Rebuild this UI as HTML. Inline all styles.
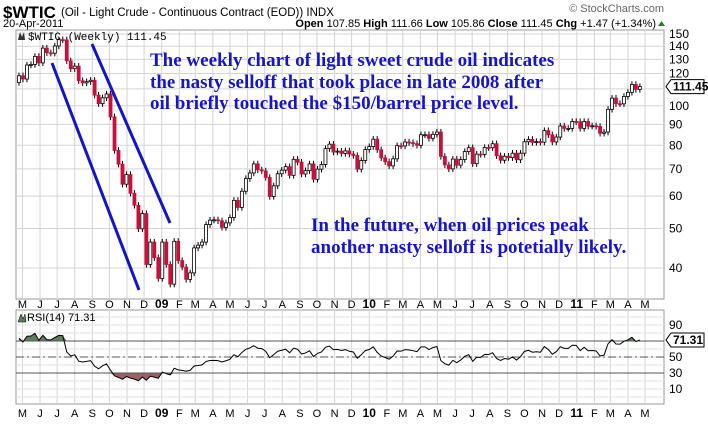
<!DOCTYPE html>
<html><head><meta charset="utf-8">
<style>
body{margin:0;background:#fff;width:708px;height:425px;overflow:hidden;font-family:"Liberation Sans",sans-serif;}
svg{display:block}
</style></head>
<body>
<svg id="chart" width="708" height="425" xmlns="http://www.w3.org/2000/svg">
  <text x="3" y="18" font-size="17" font-weight="bold" fill="#000">$WTIC</text>
  <text x="61" y="16" font-size="11.5" fill="#000">(Oil - Light Crude - Continuous Contract (EOD)) INDX</text>
  <text x="3" y="27" font-size="11" fill="#000">20-Apr-2011</text>
  <text x="656" y="27" font-size="11" text-anchor="end" fill="#000"><tspan font-weight="bold">Open</tspan> 107.85 <tspan font-weight="bold">High</tspan> 111.66 <tspan font-weight="bold">Low</tspan> 105.86 <tspan font-weight="bold">Close</tspan> 111.45 <tspan font-weight="bold">Chg</tspan> +1.47 (+1.34%)</text>
  <polygon points="658,26 665,26 661.5,21" fill="#2a7a2a"/>
  <text x="664" y="12" font-size="11" text-anchor="end" fill="#666">© StockCharts.com</text>
  <g id="main"></g>
  <g id="rsi"></g>
  <g id="notes">
    <g font-family="Liberation Serif, serif" font-weight="bold" font-size="19" fill="#1616c8">
      <text x="150" y="66">The weekly chart of light sweet crude oil indicates</text>
      <text x="150" y="88">the nasty selloff that took place in late 2008 after</text>
      <text x="150" y="109">oil briefly touched the $150/barrel price level.</text>
      <text x="311" y="231">In the future, when oil prices peak</text>
      <text x="311" y="253">another nasty selloff is potetially likely.</text>
    </g>
    <line x1="52" y1="63" x2="139" y2="290" stroke="#1414c8" stroke-width="3"/>
    <line x1="92" y1="44" x2="170" y2="223" stroke="#1414c8" stroke-width="3"/>
  </g>
</svg>
<script>
const closes=[118.5,116.3,125.9,126.3,132.2,127.4,138.5,134.9,134.6,140.2,145.3,145.1,128.9,123.3,125.1,115.2,113.8,114.6,115.5,106.2,101.2,104.6,106.9,93.9,77.7,71.9,64.2,67.8,61.0,57.0,49.9,54.4,40.8,46.3,42.4,37.7,
46.3,40.8,36.5,46.5,41.7,40.2,37.5,38.9,44.8,45.5,46.3,51.1,52.4,52.5,52.2,50.3,51.6,53.2,58.6,56.3,61.7,66.3,68.4,72.0,69.6,69.2,66.7,59.9,63.6,68.1,69.5,70.9,67.5,73.9,72.7,68.0,69.3,72.0,66.0,69.9,71.8,78.5,80.5,77.0,77.4,76.4,77.5,76.1,75.5,69.9,73.4,78.1,79.4,
82.8,78.0,74.5,72.9,71.2,74.1,79.8,79.7,81.5,81.2,80.7,80.0,84.9,84.9,83.2,85.1,86.2,75.1,71.6,70.0,74.0,71.5,73.8,77.2,78.9,72.1,76.1,76.0,79.0,78.9,80.7,75.4,73.5,75.2,74.6,76.5,73.7,76.5,81.6,82.7,81.3,81.7,81.4,86.9,84.9,81.5,83.8,89.2,88.0,88.0,91.5,91.4,
88.0,91.5,89.1,89.3,89.0,85.6,86.2,98.0,104.4,101.2,101.1,105.4,107.9,112.8,109.7,111.45];
const firstOpen=114.0;
const rsiSeed=[1.8,0.65];
const priceTicks=[40,50,60,70,80,90,100,110,120,130,140,150];
const rsiTicks=[10,30,50,70,90];
const monthLabels=["M","J","J","A","S","O","N","D","09","F","M","A","M","J","J","A","S","O","N","D","10","F","M","A","M","J","J","A","S","O","N","D","11","F","M","A","M"];
const lastValue=111.45, lastRsi=71.31;

const NS="http://www.w3.org/2000/svg";
const L=16,R=664,T=30,B=299,RT=310,RB=404;
const X0=19,DX=3.98;
function xw(i){return X0+i*DX;}
function yp(p){return 34+177*Math.log(150/p);}
function yr(v){return 397-0.8*v;}
function mk(tag,a,parent){const e=document.createElementNS(NS,tag);for(const k in a)e.setAttribute(k,a[k]);parent.appendChild(e);return e;}
const main=document.getElementById('main'), rsiG=document.getElementById('rsi');
let bg=mk('rect',{x:L,y:T,width:R-L,height:B-T,fill:'#fff',stroke:'#999'},main);


let bg2=mk('rect',{x:L,y:RT,width:R-L,height:RB-RT,fill:'#fff',stroke:'#999'},rsiG);


const start=Date.UTC(2008,3,25);
for(let m=0;m<monthLabels.length;m++){
  const d=Date.UTC(2008,4+m,1);
  const x=X0+(d-start)/864e5/7*DX;
  mk('line',{x1:x,y1:T,x2:x,y2:B,stroke:'#d4d4d4'},main);
  mk('line',{x1:x,y1:RT,x2:x,y2:RB,stroke:'#d4d4d4'},rsiG);
  const yr_=/\d/.test(monthLabels[m]);
  for(const yy of [308,417]){
    const t=mk('text',{x:x,y:yy,'font-size':yr_?12:11,'font-weight':yr_?'bold':'normal','text-anchor':'middle',fill:'#000'},main);
    t.textContent=monthLabels[m];
    
    
  }
}
for(const p of priceTicks){
  const y=yp(p);
  mk('line',{x1:L,y1:y,x2:R,y2:y,stroke:'#d4d4d4'},main);
  if(p!==110){const t=mk('text',{x:669,y:y+4,'font-size':12,fill:'#000'},main);t.textContent=p;
  
  }
}
for(let v=0;v<=100;v+=10){mk('line',{x1:L,y1:yr(v),x2:R,y2:yr(v),stroke:'#e2e2e2'},rsiG);}
for(let i=0;i<closes.length;i++){
  const o=i?closes[i-1]:firstOpen,c=closes[i];
  const hi=Math.max(o,c)*1.018,lo=Math.min(o,c)*0.982;
  const x=xw(i), up=c>=o;
  const g=mk('g',{},main);
  
  
  mk('line',{x1:x,y1:yp(hi),x2:x,y2:yp(lo),stroke:'#000','stroke-width':1},g);
  const y1=yp(Math.max(o,c)),y2=yp(Math.min(o,c));
  mk('rect',{x:x-1.5,y:y1,width:3,height:Math.max(1,y2-y1),fill:up?'#fff':'#c8103c',stroke:up?'#000':'#c8103c','stroke-width':0.8},g);
}
const lg=mk('text',{x:28,y:40,'font-size':11,'font-family':'Liberation Mono, monospace',fill:'#000'},main);
lg.textContent='$WTIC (Weekly) 111.45';


function tag(parent,y,txt,name){
  const g=mk('g',{},parent);
  
  
  mk('path',{d:`M666 ${y} L671 ${y-7} L704 ${y-7} L704 ${y+7} L671 ${y+7} Z`,fill:'#fff',stroke:'#000'},g);
  const t=mk('text',{x:673,y:y+4,'font-size':12,'font-weight':'bold',fill:'#000'},g);t.textContent=txt;
}
tag(main,yp(lastValue),'111.45','last-price-tag');
// RSI (Wilder) seeded with prior averages
const rsi=[];let ag=rsiSeed[0],al=rsiSeed[1];
rsi[0]=100-100/(1+ag/al);
for(let i=1;i<closes.length;i++){
  const d=closes[i]-closes[i-1],gn=Math.max(d,0),ls=Math.max(-d,0);
  ag=(ag*13+gn)/14;al=(al*13+ls)/14;
  rsi[i]=100-100/(1+ag/al);
}
rsi[closes.length-1]=lastRsi;
for(const v of rsiTicks){
  if(v!==70){const t=mk('text',{x:669,y:yr(v)+4,'font-size':12,fill:'#000'},rsiG);t.textContent=v;
  
  }
}
function shade(th,above,col,name){
  let d='';
  for(let i=0;i<rsi.length;i++){
    const v=above?Math.max(rsi[i],th):Math.min(rsi[i],th);
    d+=(i?'L':'M')+xw(i)+' '+yr(v)+' ';
  }
  d+='L'+xw(rsi.length-1)+' '+yr(th)+' L'+xw(0)+' '+yr(th)+' Z';
  const p=mk('path',{d:d,fill:col},rsiG);
  
  
}
shade(70,true,'#5e7e5e','rsi-overbought-fill');
shade(30,false,'#9a6262','rsi-oversold-fill');
mk('line',{x1:L,y1:yr(70),x2:R,y2:yr(70),stroke:'#555'},rsiG);
mk('line',{x1:L,y1:yr(30),x2:R,y2:yr(30),stroke:'#555'},rsiG);
mk('line',{x1:L,y1:yr(50),x2:R,y2:yr(50),stroke:'#555','stroke-dasharray':'8,3,2,3'},rsiG);
let pd='';for(let i=0;i<rsi.length;i++)pd+=(i?'L':'M')+xw(i)+' '+yr(rsi[i])+' ';
const rl=mk('path',{d:pd,fill:'none',stroke:'#000','stroke-width':1},rsiG);


const rlg=mk('text',{x:27,y:321,'font-size':11,fill:'#000'},rsiG);
rlg.textContent='RSI(14) 71.31';


mk('path',{d:'M18 322 L21 314 L23 319 L25 314 L26 322 Z',fill:'#5e7e5e',stroke:'#000','stroke-width':0.5},rsiG);
mk('path',{d:'M18 40 L20 32 L22 37 L24 32 L25 40 Z',fill:'#333'},main);
tag(rsiG,yr(lastRsi),'71.31','last-rsi-tag');
</script>
</body></html>
